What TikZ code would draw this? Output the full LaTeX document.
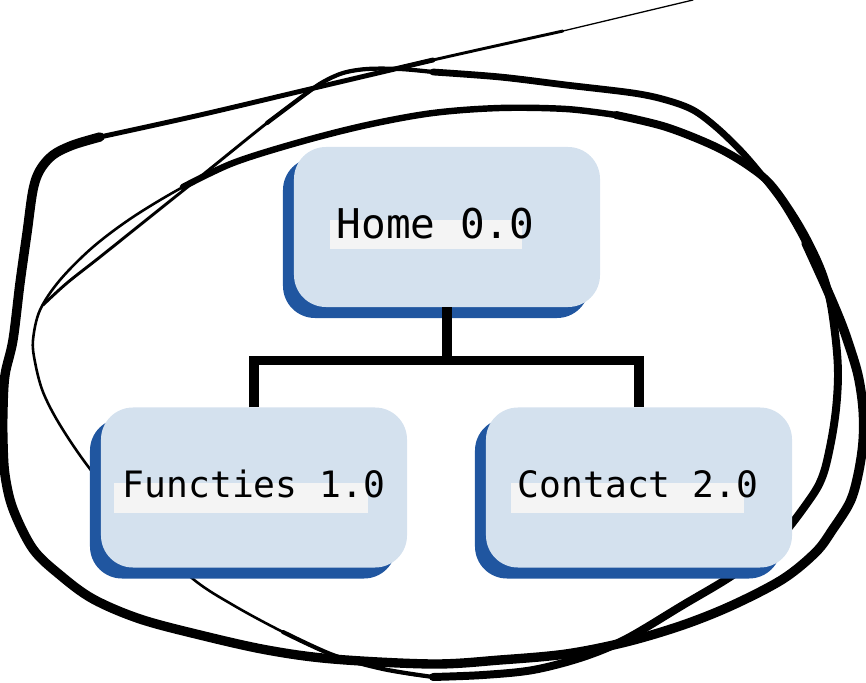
\documentclass[tikz,border=0pt]{standalone}
\usepackage{fontspec}
\usetikzlibrary{shadows}
\newfontfamily\boxfont{DejaVu Sans Mono}
\definecolor{boxfill}{RGB}{212,225,238}
\definecolor{boxshade}{RGB}{32,86,160}
\definecolor{hilite}{RGB}{244,244,244}

\begin{document}
\begin{tikzpicture}[x=0.03cm,y=-0.03cm,
    box/.style={rectangle,rounded corners=0.96cm,fill=boxfill,inner sep=0pt,
        minimum width=9.18cm,minimum height=4.8cm,
        drop shadow={fill=boxshade,opacity=1,shadow xshift=-0.33cm,shadow yshift=-0.33cm}},
    lbl/.style={anchor=base,inner sep=0pt,text=black},
    link/.style={line width=8.4pt},
    pen/.style={line cap=round,line join=round}]
\useasboundingbox (0,0) rectangle (866,683);

% scribble, outer stroke
\draw[pen,line width=1.1pt] (693,0) -- (563,31);
\draw[pen,line width=2.5pt] plot[smooth,tension=0.55] coordinates {(563,31) (433,60) (310,89) (200,115) (100,137) (73,145) (53,155) (40,170) (33,190) (27,233) (20,283) (13,340) (5,375) (3,409) (3,442) (5,475) (13,509) (33,549) (60,575) (93,599) (140,619) (200,635) (267,650) (333,659) (433,664) (500,660) (566,654) (626,642) (683,625) (733,605) (783,579) (816,552) (833,529) (850,502) (858,475) (863,442) (863,409) (858,375) (848,342) (840,320) (826,287) (806,243) (783,203) (760,173) (740,150) (716,127) (693,110) (666,100) (633,93) (566,85) (500,77) (433,72) (400,69) (367,69) (343,73) (323,82) (307,93) (267,123) (200,177) (150,217) (100,257) (67,283) (43,305)};
\draw[pen,line width=4.2pt] plot[smooth,tension=0.55] coordinates {(433,60) (310,89) (200,115) (100,137)};
\draw[pen,line width=8pt] plot[smooth,tension=0.55] coordinates {(100,137) (73,145) (53,155) (40,170) (33,190) (27,233) (20,283) (13,340) (5,375) (3,409) (3,442) (5,475) (13,509) (33,549) (60,575) (93,599) (140,619) (200,635) (267,650) (333,659) (433,664) (500,660) (566,654) (626,642) (683,625) (733,605) (783,579) (816,552) (833,529) (850,502) (858,475) (863,442) (863,409) (858,375) (848,342) (840,320) (826,287) (806,243)};
\draw[pen,line width=5.8pt] plot[smooth,tension=0.55] coordinates {(826,287) (806,243) (783,203) (760,173) (740,150) (716,127) (693,110) (666,100) (633,93) (566,85) (500,77) (433,72)};
\draw[pen,line width=3.6pt] plot[smooth,tension=0.55] coordinates {(433,72) (400,69) (367,69) (343,73) (323,82) (307,93) (267,123)};

% scribble, inner loop
\draw[pen,line width=2.2pt] plot[smooth cycle,tension=0.55] coordinates {(433,113) (367,125) (300,142) (233,163) (183,187) (133,217) (93,247) (60,280) (40,310) (33,340) (35,362) (43,392) (60,425) (90,469) (140,530) (193,579) (233,605) (283,632) (333,655) (383,669) (433,677) (483,675) (533,670) (583,657) (626,639) (683,605) (733,575) (776,542) (810,499) (823,475) (831,442) (836,409) (838,375) (836,342) (830,300) (820,267) (800,227) (773,187) (750,167) (716,147) (666,127) (616,115) (566,109) (500,108)};
\draw[pen,line width=5.5pt] plot[smooth,tension=0.55] coordinates {(616,115) (566,109) (500,108) (433,113) (367,125) (300,142) (233,163) (183,187)};
\draw[pen,line width=6.8pt] plot[smooth,tension=0.55] coordinates {(433,677) (483,675) (533,670) (583,657) (626,639) (683,605) (733,575) (776,542) (810,499) (823,475) (831,442) (836,409) (838,375) (836,342) (830,300) (820,267) (800,227) (773,187) (750,167) (716,147) (666,127) (616,115)};
\draw[pen,line width=3.6pt] plot[smooth,tension=0.55] coordinates {(283,632) (333,655) (383,669) (433,677)};

% boxes
\node[box] (home) at (447,227) {};
\node[box] (functies) at (254,487.5) {};
\node[box] (contact) at (639,487.5) {};

\fill[hilite] (330,220) rectangle (522,249);
\fill[hilite] (114,483) rectangle (368,513);
\fill[hilite] (511,483) rectangle (744,513);

\node[lbl,font=\fontsize{35}{42}\boxfont] (hometxt) at (435.5,239) {Home 0.0};
\node[lbl,font=\fontsize{31}{37}\boxfont] (functiestxt) at (254,497) {Functies 1.0};
\node[lbl,font=\fontsize{31}{37}\boxfont] (contacttxt) at (638,497) {Contact 2.0};

% links
\coordinate (split) at (447,360.5);
\draw[link] (home.south) -- (split);
\draw[link] (functies.north) |- (split) -| (contact.north);
\end{tikzpicture}
\end{document}
